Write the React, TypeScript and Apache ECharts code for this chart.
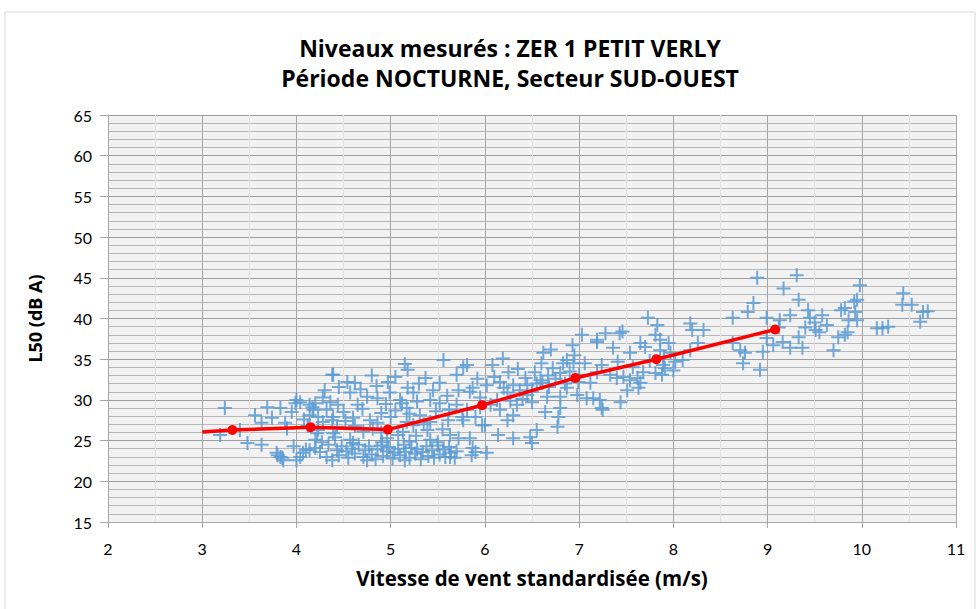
import React, { useEffect, useRef } from "react";
import * as echarts from "echarts";

const titleLines = ["Niveaux mesurés : ZER 1 PETIT VERLY", "Période NOCTURNE, Secteur SUD-OUEST"];
const xAxisName = "Vitesse de vent standardisée (m/s)";
const yAxisName = "L50 (dB A)";
const xMin = 2, xMax = 11, xStep = 1;
const yMin = 15, yMax = 65, yStep = 5;

// Mesures (vitesse m/s, L50 dB(A))
const measuredLowWind: number[][] = [
  [3.24, 29.0], [3.19, 25.7], [3.40, 26.3], [3.48, 24.7], [3.63, 24.5], [3.56, 28.1], [3.69, 29.1],
  [3.83, 29.0], [3.74, 27.8], [3.63, 27.2], [3.88, 27.2], [3.80, 23.2], [3.85, 22.9], [3.95, 28.5],
  [3.90, 26.5], [3.79, 23.5], [3.86, 22.6], [4.0, 30.0], [4.04, 29.7], [3.99, 29.6], [4.14, 29.4],
  [4.17, 29.1], [4.2, 29.6], [4.18, 28.8], [4.14, 28.1], [4.23, 27.9], [4.32, 28.8], [4.28, 27.3],
  [4.38, 27.5], [4.3, 31.2], [4.38, 33.1], [4.36, 29.7], [4.2, 25.1], [4.23, 26.3], [4.39, 25.9],
  [4.34, 24.5], [4.43, 23.8], [4.04, 23.0], [4.14, 23.8], [4.25, 23.6], [4.32, 23.0], [3.83, 23.0],
  [4.0, 22.6], [4.22, 25.9], [4.1, 23.9], [4.07, 23.5], [4.2, 24.1], [4.38, 22.6], [4.12, 26.8],
  [4.28, 30.3], [3.97, 24.3], [4.27, 24.8], [4.08, 27.6],
];

const measuredMidWind: number[][] = [
  [5.56, 34.9], [5.18, 33.7], [4.39, 33.1], [5.37, 32.7], [5.70, 33.1], [4.54, 32.2], [4.62, 32.1],
  [4.97, 32.2], [5.52, 32.1], [5.81, 34.3], [4.57, 30.9], [4.99, 30.9], [5.18, 31.5], [5.24, 30.9],
  [5.72, 31.2], [4.86, 30.2], [5.10, 30.0], [5.42, 30.0], [5.52, 29.6], [5.70, 29.4], [4.44, 29.4],
  [4.65, 29.4], [5.17, 29.0], [5.31, 28.1], [5.42, 27.3], [5.61, 27.5], [5.77, 27.5], [4.39, 27.9],
  [4.60, 27.8], [4.78, 27.5], [4.86, 27.2], [5.17, 27.3], [5.24, 26.9], [4.43, 26.7], [4.71, 26.1],
  [4.81, 26.5], [5.13, 26.1], [5.39, 26.3], [5.63, 25.7], [5.72, 25.3], [5.42, 25.1], [4.41, 25.4],
  [4.57, 25.1], [4.96, 25.3], [4.5, 28.5], [4.7, 28.9], [4.9, 28.4], [5.0, 27.9], [5.05, 28.7],
  [4.95, 29.5], [4.75, 30.4], [4.68, 31.3], [4.85, 31.7], [5.05, 32.8], [5.12, 29.6], [5.2, 28.3],
  [5.28, 29.8], [5.3, 32.0], [5.45, 31.2], [5.6, 30.5], [5.48, 28.6], [5.35, 27.0], [5.55, 26.4],
  [5.08, 25.7], [4.9, 26.0], [4.62, 26.8], [4.52, 27.4], [5.27, 25.6], [5.62, 28.8], [4.8, 33.0],
  [4.45, 31.6], [5.15, 34.4],
  [4.45, 23.2], [4.48, 24.3], [4.53, 23.7], [4.55, 22.9], [4.59, 24.0], [4.62, 23.4], [4.66, 24.5],
  [4.71, 23.0], [4.73, 23.8], [4.77, 24.3], [4.8, 23.3], [4.84, 22.7], [4.86, 23.9], [4.9, 24.4],
  [4.92, 23.1], [4.96, 23.7], [4.98, 24.2], [5.02, 22.8], [5.04, 23.5], [5.08, 24.0], [5.1, 23.2],
  [5.14, 24.5], [5.16, 23.6], [5.2, 22.9], [5.22, 24.1], [5.26, 23.4], [5.28, 23.9], [5.32, 22.7],
  [5.34, 23.6], [5.38, 24.3], [5.4, 23.1], [5.44, 23.8], [5.46, 22.9], [5.5, 24.4], [5.52, 23.3],
  [5.56, 23.9], [5.58, 23.0], [5.62, 24.2], [5.64, 23.5], [5.68, 22.9], [5.7, 23.7], [4.6, 24.7],
  [4.91, 24.8], [5.2, 24.9], [5.5, 24.8], [4.75, 22.6], [5.15, 22.6],
];

const measuredUpperMidWind: number[][] = [
  [7.03, 38.0], [7.19, 37.4], [6.93, 36.7], [6.62, 35.8], [6.19, 35.1], [5.77, 34.0], [6.08, 34.3],
  [6.25, 33.4], [6.53, 33.4], [6.83, 34.5], [6.87, 34.9], [6.94, 34.5], [7.06, 34.5], [6.72, 33.9],
  [6.67, 33.0], [6.80, 33.3], [6.59, 32.4], [6.43, 32.7], [6.16, 32.2], [6.02, 31.8], [5.87, 31.5],
  [5.84, 31.0], [6.30, 31.8], [6.37, 31.2], [6.50, 31.0], [6.61, 32.1], [6.99, 32.2], [7.12, 32.1],
  [6.87, 31.5], [6.98, 30.6], [7.08, 30.2], [6.80, 30.4], [6.66, 30.4], [6.45, 30.6], [6.24, 30.9],
  [6.13, 30.0], [6.06, 29.4], [6.34, 29.4], [6.50, 29.7], [5.81, 28.8], [5.76, 27.9], [5.95, 29.1],
  [6.16, 28.8], [6.30, 28.1], [6.64, 28.5], [6.80, 29.0], [6.78, 27.9], [6.77, 26.7], [6.55, 26.3],
  [6.24, 27.5], [5.97, 26.9], [5.90, 27.9], [6.14, 25.7], [6.48, 25.4], [6.50, 24.7], [5.84, 25.3],
  [5.87, 24.1], [6.02, 23.5], [5.86, 23.2], [5.9, 23.6], [5.63, 23.0], [6.3, 25.3], [6.0, 26.9],
  [6.2, 31.5], [6.4, 30.1], [6.55, 32.0], [6.1, 32.8], [5.95, 30.3], [6.27, 29.9], [6.45, 31.8],
  [6.68, 31.6], [6.9, 33.5], [6.75, 32.6], [7.0, 33.1], [6.85, 32.0], [6.95, 35.5], [6.6, 34.5],
  [5.92, 32.6], [6.35, 33.8], [6.7, 36.2],
];

const measuredHighWind: number[][] = [
  [7.73, 40.1], [7.83, 39.2], [8.18, 39.4], [8.20, 38.6], [8.32, 38.6], [7.28, 38.2], [7.43, 38.2],
  [7.81, 38.0], [7.86, 37.4], [7.19, 37.1], [7.65, 37.0], [8.26, 37.0], [7.36, 36.4], [7.95, 37.0],
  [7.86, 36.1], [7.97, 35.8], [7.54, 35.8], [8.10, 34.9], [8.02, 34.7], [7.89, 34.3], [7.24, 34.3],
  [7.41, 34.7], [7.57, 34.0], [7.68, 33.4], [7.81, 33.3], [7.88, 33.1], [7.91, 33.9], [7.19, 33.4],
  [7.33, 33.1], [7.40, 32.7], [7.47, 32.8], [7.62, 32.7], [7.54, 32.4], [7.65, 32.1], [7.63, 31.5],
  [7.51, 31.2], [7.15, 30.2], [7.44, 29.7], [7.24, 29.0], [7.46, 38.4], [7.22, 30.0], [7.25, 28.8],
  [7.9, 35.3], [8.0, 33.6], [7.75, 34.8], [7.7, 36.5], [8.18, 36.1],
  [9.31, 45.3], [8.89, 45.0], [9.17, 43.7], [9.33, 42.3], [8.85, 41.9], [8.79, 40.8], [9.43, 41.0],
  [9.58, 40.4], [9.24, 40.4], [8.63, 40.1], [8.99, 40.1], [9.13, 39.8], [9.45, 40.1], [9.63, 39.2],
  [9.51, 38.6], [9.33, 37.7], [9.16, 37.1], [8.99, 37.6], [8.63, 37.0], [8.71, 36.1], [8.76, 35.8],
  [8.95, 35.9], [9.06, 36.7], [9.24, 36.4], [9.37, 36.4], [9.70, 36.1], [8.74, 34.5], [8.92, 33.7],
  [9.5, 39.5], [9.4, 38.9], [9.12, 38.9], [9.55, 38.3],
  [9.98, 44.1], [9.95, 42.3], [9.92, 42.1], [9.82, 41.3], [9.93, 40.8], [9.86, 39.8], [9.95, 39.8],
  [9.85, 38.3], [9.82, 38.0], [10.44, 43.1], [10.43, 41.7], [10.53, 41.7], [10.65, 40.8], [10.70, 40.9],
  [10.62, 39.6], [10.16, 38.8], [10.22, 38.8], [10.28, 39.0], [9.78, 41.0], [9.75, 37.7],
];

// Courbe de tendance (moyennes par classe de vent)
const trendStart = [3.0, 26.05];
const trendPoints: number[][] = [
  [3.32, 26.3], [4.15, 26.65], [4.97, 26.35], [5.97, 29.35], [6.96, 32.7], [7.82, 35.0], [9.08, 38.65],
];

const BOLD_FONT = "'Open Sans', Lato, sans-serif";
const FONT = "Lato, 'Open Sans', sans-serif";
const PLUS = "path://M6,0H8V6H14V8H8V14H6V8H0V6H6Z";

export default function App() {
  const ref = useRef<HTMLDivElement>(null);
  useEffect(() => {
    if (!ref.current) return;
    const chart = echarts.init(ref.current, null, { renderer: "svg" });
    const scatterData = [...measuredLowWind, ...measuredMidWind, ...measuredUpperMidWind, ...measuredHighWind];
    const lineData: any[] = [{ value: trendStart, symbol: "none" }, ...trendPoints];
    chart.setOption({
      animation: false,
      backgroundColor: "#ffffff",
      title: {
        text: titleLines.join("\n"),
        left: 505,
        top: 28,
        textAlign: "center",
        textStyle: { fontFamily: BOLD_FONT, fontSize: 23, fontWeight: "bold", color: "#000", lineHeight: 30 },
      },
      graphic: [
        {
          type: "rect",
          shape: { x: 5, y: 12, width: 970, height: 620 },
          style: { fill: "none", stroke: "#d9d9d9", lineWidth: 1 },
          silent: true,
          z: -1,
        },
      ],
      grid: {
        left: 108,
        right: 23,
        top: 115,
        bottom: 87,
        show: true,
        backgroundColor: "#f2f2f2",
        borderWidth: 0,
      },
      xAxis: {
        type: "value",
        min: xMin,
        max: xMax,
        interval: xStep,
        name: xAxisName,
        nameLocation: "middle",
        nameGap: 45,
        nameTextStyle: { fontFamily: BOLD_FONT, fontSize: 20.5, fontWeight: "bold", color: "#000" },
        axisLine: { show: true, lineStyle: { color: "#a6a6a6", width: 1 } },
        axisTick: { show: true, length: 6, lineStyle: { color: "#a6a6a6" } },
        axisLabel: { margin: 18, fontFamily: FONT, fontSize: 16, color: "#000" },
        splitLine: { show: true, lineStyle: { color: "#a6a6a6", width: 1 } },
        minorTick: { show: false, splitNumber: 2 },
        minorSplitLine: { show: true, lineStyle: { color: "#e3e3e3", width: 1 } },
      },
      yAxis: {
        type: "value",
        min: yMin,
        max: yMax,
        interval: yStep,
        name: yAxisName,
        nameLocation: "middle",
        nameGap: 64,
        nameTextStyle: { fontFamily: BOLD_FONT, fontSize: 18, fontWeight: "bold", color: "#000" },
        axisLine: { show: true, lineStyle: { color: "#a6a6a6", width: 1 } },
        axisTick: { show: true, length: 8, lineStyle: { color: "#a6a6a6" } },
        axisLabel: { margin: 16, fontFamily: FONT, fontSize: 16, color: "#000" },
        splitLine: { show: true, lineStyle: { color: "#9d9d9d", width: 1 } },
        minorTick: { show: false, splitNumber: 5 },
        minorSplitLine: { show: true, lineStyle: { color: "#b8b8b8", width: 1 } },
      },
      series: [
        {
          name: "Mesures",
          type: "scatter",
          data: scatterData,
          symbol: PLUS,
          symbolSize: 14,
          itemStyle: { color: "#5b9bd5", opacity: 0.85 },
          z: 2,
        },
        {
          name: "Tendance",
          type: "line",
          data: lineData,
          symbol: "circle",
          symbolSize: 10,
          showSymbol: true,
          lineStyle: { color: "#ff0000", width: 3.5 },
          itemStyle: { color: "#ff0000" },
          z: 5,
        },
      ],
    });
    return () => chart.dispose();
  }, []);
  return <div ref={ref} style={{ width: 979, height: 609, position: "absolute", left: 0, top: 0 }} />;
}
